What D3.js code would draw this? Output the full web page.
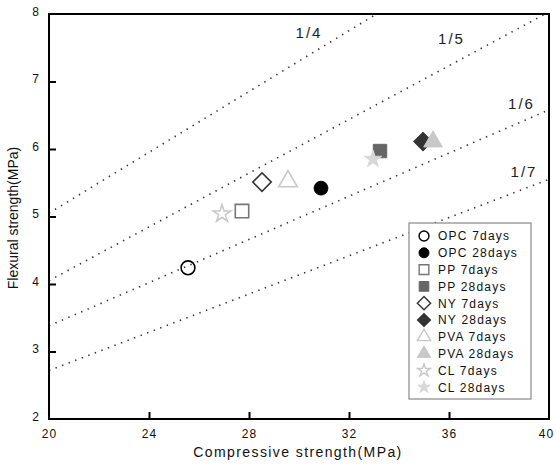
<!DOCTYPE html>
<html><head><meta charset="utf-8">
<script src="https://cdn.jsdelivr.net/npm/d3@7"></script>
<style>body{margin:0;background:#fff;} svg{display:block;font-family:Arial,"Liberation Sans",sans-serif;}</style>
</head><body>
<svg id="c" width="556" height="468"></svg>
<script>
// ---- data ----
const seriesNames = ["OPC 7days","OPC 28days","PP 7days","PP 28days","NY 7days","NY 28days","PVA 7days","PVA 28days","CL 7days","CL 28days"];
const compressive = [25.56, 30.88, 27.72, 33.24, 28.52, 34.96, 29.56, 35.36, 26.92, 32.96];
const flexural    = [4.24, 5.42, 5.08, 5.97, 5.51, 6.11, 5.52, 6.11, 5.04, 5.85];
const ratioLabels = ["1/4","1/5","1/6","1/7"];
const ratioStart  = [[20, 5.05],[20, 4.05],[20, 3.38],[20, 2.72]];
const ratioEnd    = [[33.1, 8.0],[39.85, 8.0],[40, 6.58],[40, 5.55]];
const ratioLabelPos = [[30.4, 7.65],[36.1, 7.56],[38.9, 6.6],[39.0, 5.58]];
const xTicks = [20,24,28,32,36,40];
const yTicks = [2,3,4,5,6,7,8];

// ---- styles ----
const shapes = ["circle","circle","square","square","diamond","diamond","triangle","triangle","star","star"];
const fills   = ["none","#000","none","#666","none","#333","none","#c8c8c8","none","#d8d8d8"];
const strokes = ["#000","#000","#777","#666","#333","#333","#c8c8c8","#c8c8c8","#c8c8c8","#d8d8d8"];

const svg = d3.select("#c");
const L=49, T=14, W=500, H=405;
const x = d3.scaleLinear().domain([20,40]).range([L, L+W]);
const y = d3.scaleLinear().domain([2,8]).range([T+H, T]);

function symPath(shape, big){
  const s = big ? 1 : 0.72;
  if(shape==="circle") return d3.symbol(d3.symbolCircle, 150*s*s)();
  if(shape==="square") return d3.symbol(d3.symbolSquare, 180*s*s)();
  if(shape==="diamond") return d3.symbol(d3.symbolSquare, 170*s*s)();
  if(shape==="triangle") return d3.symbol(d3.symbolTriangle, 150*s*s)();
  if(shape==="star") return d3.symbol(d3.symbolStar, 95*s*s)();
}
function rot(shape){ return shape==="diamond" ? " rotate(45)" : ""; }

// ratio lines
ratioLabels.forEach((lab,i)=>{
  svg.append("line")
    .attr("x1", x(ratioStart[i][0])).attr("y1", y(ratioStart[i][1]))
    .attr("x2", x(ratioEnd[i][0])).attr("y2", y(ratioEnd[i][1]))
    .attr("stroke","#333").attr("stroke-width",1.6)
    .attr("stroke-dasharray","1.4,5.6").attr("stroke-linecap","butt");
  svg.append("text").attr("x", x(ratioLabelPos[i][0])).attr("y", y(ratioLabelPos[i][1]))
    .attr("text-anchor","middle").attr("font-size",15).attr("letter-spacing",2).attr("fill","#222")
    .text(lab);
});

// axes
const xAxis = d3.axisBottom(x).tickValues(xTicks).tickFormat(d3.format("d")).tickSizeInner(-7).tickSizeOuter(0).tickPadding(10);
const gx = svg.append("g").attr("transform",`translate(0,${T+H})`).call(xAxis);
gx.select(".domain").remove();
gx.selectAll("line").attr("stroke","#000").attr("stroke-width",2);
gx.selectAll("text").attr("font-size",12).attr("letter-spacing",1.2).attr("fill","#111")
  .attr("font-family","Arial, Liberation Sans, sans-serif");
gx.selectAll(".tick").filter(d=>d===20||d===40).select("line").remove();
gx.selectAll(".tick").filter(d=>d===40).select("text").attr("dx",-3);

const yAxis = d3.axisLeft(y).tickValues(yTicks).tickFormat(d3.format("d")).tickSizeInner(-7).tickSizeOuter(0).tickPadding(10);
const gy = svg.append("g").attr("transform",`translate(${L},0)`).call(yAxis);
gy.select(".domain").remove();
gy.selectAll("line").attr("stroke","#000").attr("stroke-width",2);
gy.selectAll("text").attr("font-size",12).attr("fill","#111").attr("dy","0.1em")
  .attr("font-family","Arial, Liberation Sans, sans-serif");
gy.selectAll(".tick").filter(d=>d===2||d===8).select("line").remove();

// frame
svg.append("rect").attr("x",L).attr("y",T).attr("width",W).attr("height",H)
  .attr("fill","none").attr("stroke","#000").attr("stroke-width",2);

// points
seriesNames.forEach((n,i)=>{
  svg.append("path").attr("d", symPath(shapes[i], true))
    .attr("transform", `translate(${x(compressive[i])},${y(flexural[i])})${rot(shapes[i])}`)
    .attr("fill", fills[i]).attr("stroke", strokes[i]).attr("stroke-width", fills[i]==="none"?1.6:1);
});

// legend
const lgX=409, lgY=223, lgW=122, lgH=176, step=16.8;
svg.append("rect").attr("x",lgX).attr("y",lgY).attr("width",lgW).attr("height",lgH)
  .attr("fill","#fff").attr("stroke","#888").attr("stroke-width",1.2);
seriesNames.forEach((n,i)=>{
  const cy = lgY + 13 + i*step;
  svg.append("path").attr("d", symPath(shapes[i], false))
    .attr("transform", `translate(${lgX+15},${cy})${rot(shapes[i])}`)
    .attr("fill", fills[i]).attr("stroke", strokes[i]).attr("stroke-width", fills[i]==="none"?1.4:1);
  svg.append("text").attr("x", lgX+29).attr("y", cy).attr("dy","0.36em")
    .attr("font-size",12).attr("letter-spacing",1.2).attr("fill","#111").text(n);
});

// axis titles
svg.append("text").attr("x", 298).attr("y", 457).attr("text-anchor","middle")
  .attr("font-size",14).attr("letter-spacing",1.4).attr("fill","#111").text("Compressive strength(MPa)");
svg.append("text").attr("transform","translate(18,218) rotate(-90)").attr("text-anchor","middle")
  .attr("font-size",14).attr("fill","#111").text("Flexural strength(MPa)");
</script>
</body></html>
